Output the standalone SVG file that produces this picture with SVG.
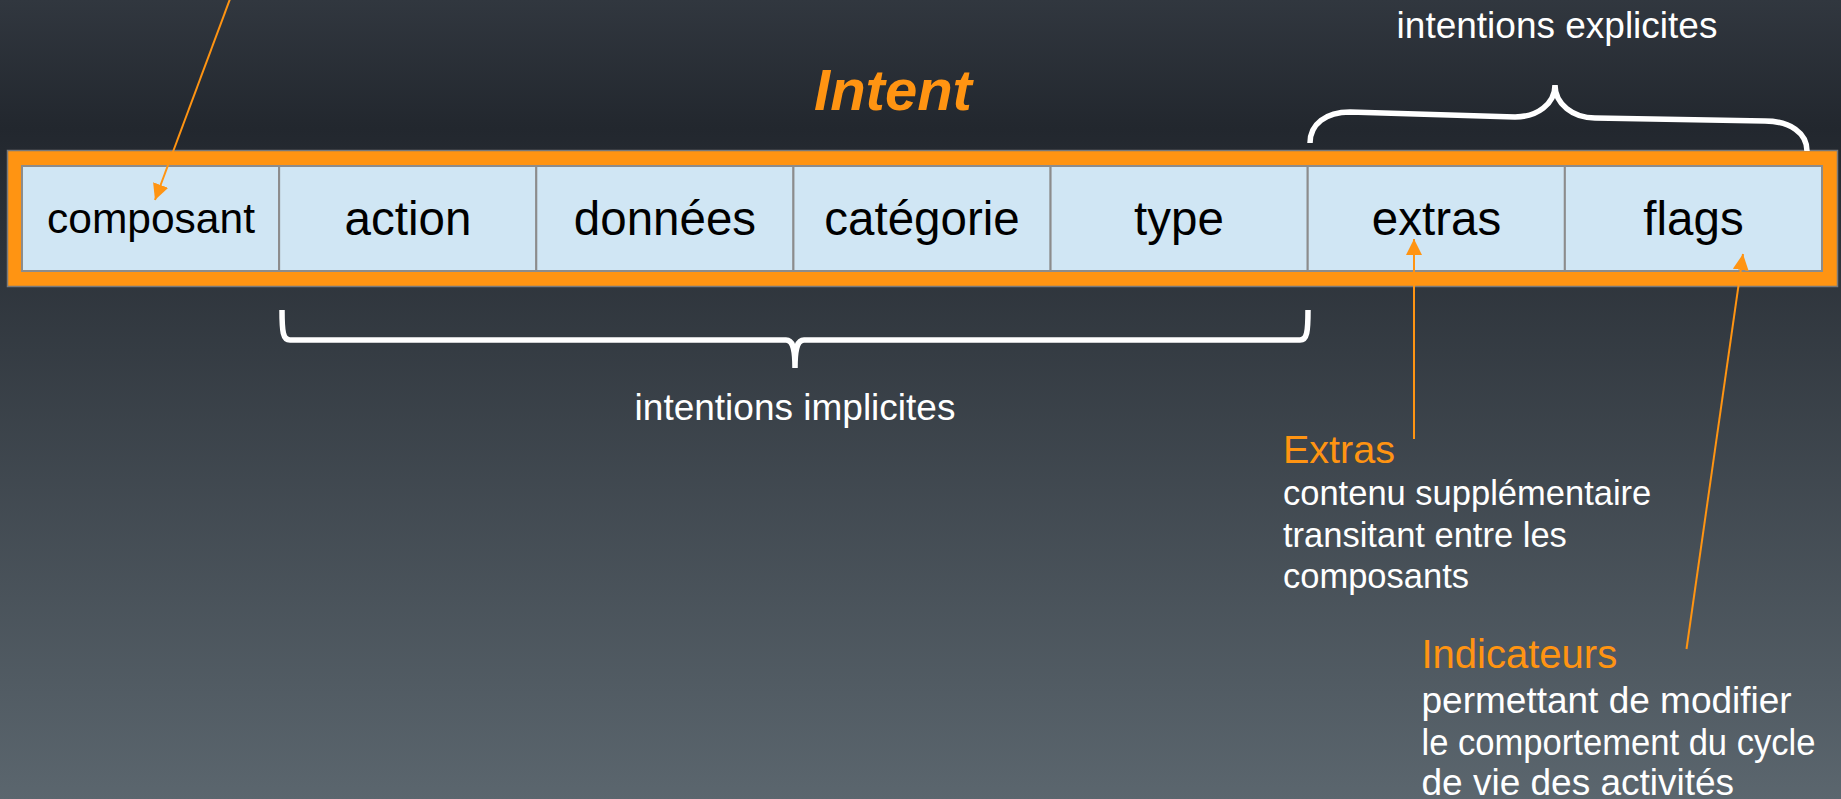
<svg xmlns="http://www.w3.org/2000/svg" width="1841" height="799" viewBox="0 0 1841 799">
<defs>
<linearGradient id="bg" x1="0" y1="0" x2="0" y2="1">
<stop offset="0" stop-color="#31373f"/>
<stop offset="0.16" stop-color="#22272e"/>
<stop offset="1" stop-color="#5b666e"/>
</linearGradient>
<marker id="ah" markerUnits="userSpaceOnUse" markerWidth="17" markerHeight="17" refX="16" refY="8" orient="auto">
<path d="M0,0 L16,8 L0,16 z" fill="#ff9412"/>
</marker>
<style>
.cell{fill:#d0e6f4;stroke:#8c8c8c;stroke-width:2}
.ct{font-family:"Liberation Sans",Arial,sans-serif;font-size:47.5px;fill:#000;text-anchor:middle}
.brace{fill:none;stroke:#fff;stroke-width:5.5}
.conn{stroke:#ff9412;stroke-width:2;fill:none}
.lbl{font-family:"Liberation Sans",Arial,sans-serif;fill:#fff}
.hd{font-family:"Liberation Sans",Arial,sans-serif;fill:#ff9412}
</style>
</defs>
<rect width="1841" height="799" fill="url(#bg)"/>
<text x="893" y="110" font-family="Liberation Sans, Arial, sans-serif" font-size="58" font-weight="bold" font-style="italic" fill="#ff9412" text-anchor="middle">Intent</text>
<g id="intent">
<rect x="7.5" y="150.5" width="1830" height="136" fill="#ff9412" stroke="#7a7a7a" stroke-width="1.5"/>
</g>
<g id="composant"><rect class="cell" x="22" y="166" width="257.14" height="105"/><text class="ct" x="151" y="233" style="font-size:42.5px">composant</text></g>
<g id="action"><rect class="cell" x="279.14" y="166" width="257.14" height="105"/><text class="ct" x="408" y="235">action</text></g>
<g id="donnees"><rect class="cell" x="536.29" y="166" width="257.14" height="105"/><text class="ct" x="665" y="235">données</text></g>
<g id="categorie"><rect class="cell" x="793.43" y="166" width="257.14" height="105"/><text class="ct" x="922" y="235">catégorie</text></g>
<g id="type"><rect class="cell" x="1050.57" y="166" width="257.14" height="105"/><text class="ct" x="1179" y="235">type</text></g>
<g id="extras"><rect class="cell" x="1307.71" y="166" width="257.14" height="105"/><text class="ct" x="1436.5" y="235">extras</text></g>
<g id="flags"><rect class="cell" x="1564.86" y="166" width="257.14" height="105"/><text class="ct" x="1693.5" y="235">flags</text></g>
<g id="explicit">
<path class="brace" d="M1310,143 C1310,124 1326,112 1350,112 L1515,117 C1537,117 1555,104 1555,85 C1555,104 1573,118 1595,118 L1765,121 C1790,121 1807,133 1807,151"/>
<text class="lbl" x="1557" y="38" font-size="37" text-anchor="middle">intentions explicites</text>
</g>
<g id="implicit">
<path class="brace" d="M282,310 C282,332 283,340 290,340 L786,340 C792,340 795,346 795,368 C795,346 798,340 804,340 L1300,340 C1307,340 1308,332 1308,310"/>
<text class="lbl" x="795" y="420" font-size="37" text-anchor="middle">intentions implicites</text>
</g>
<g id="extras-note">
<text class="hd" x="1283" y="463" font-size="39.5">Extras</text>
<text class="lbl" font-size="34.5"><tspan x="1283" y="505">contenu supplémentaire</tspan><tspan x="1283" y="547">transitant entre les</tspan><tspan x="1283" y="588">composants</tspan></text>
</g>
<g id="flags-note">
<text class="hd" x="1421.5" y="668" font-size="40">Indicateurs</text>
<text class="lbl" x="1421.5" y="713" font-size="37">permettant de modifier</text>
<text class="lbl" x="1421.5" y="755" font-size="37" textLength="394" lengthAdjust="spacingAndGlyphs">le comportement du cycle</text>
<text class="lbl" x="1421.5" y="795" font-size="37">de vie des activités</text>
</g>
<g id="connectors">
<line class="conn" x1="231.5" y1="-5" x2="155" y2="200" marker-end="url(#ah)"/>
<line class="conn" x1="1414" y1="439" x2="1414" y2="239" marker-end="url(#ah)"/>
<line class="conn" x1="1686.5" y1="649" x2="1743" y2="254" marker-end="url(#ah)"/>
</g>
</svg>
